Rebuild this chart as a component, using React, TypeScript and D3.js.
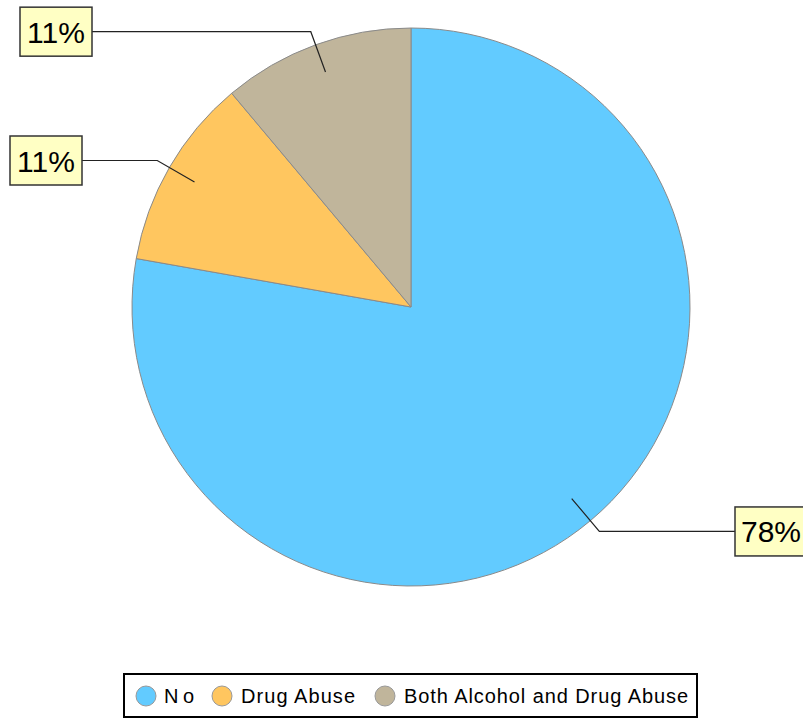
import React from "react";
import * as d3 from "d3";

const categories = ["No", "Drug Abuse", "Both Alcohol and Drug Abuse"];
const values = [7, 1, 1];
const colors = ["#62CBFF", "#FFC65F", "#C0B59B"];
const labelBoxX = [735, 10, 20]; // left edge of each label box

const W = 803, H = 720;
const cx = 411, cy = 307, R = 279;

export default function App() {
  const total = d3.sum(values);
  const pie = d3.pie<number>().sort(null).value((d) => d)(values);
  const arc = d3.arc<d3.PieArcDatum<number>>().innerRadius(0).outerRadius(R);
  const boxW = 72, boxH = 49;

  const legendItems = [
    { x: 146, tx: 164, len: 30 },
    { x: 222, tx: 241, len: 114 },
    { x: 385, tx: 404, len: 284 },
  ];

  return (
    <svg width={W} height={H} style={{ position: "absolute", left: 0, top: 0 }} fontFamily="Liberation Sans, Arial, sans-serif">
      <g transform={`translate(${cx},${cy})`}>
        {pie.map((p, i) => (
          <path key={i} d={arc(p) || ""} fill={colors[i]} stroke="#8a8a8a" strokeWidth={1} />
        ))}
      </g>
      {pie.map((p, i) => {
        const mid = (p.startAngle + p.endAngle) / 2;
        const ix = cx + 250 * Math.sin(mid), iy = cy - 250 * Math.cos(mid);
        const ex = cx + 293 * Math.sin(mid), ey = cy - 293 * Math.cos(mid);
        const right = Math.sin(mid) > 0;
        const bx = labelBoxX[i];
        const hx = right ? bx : bx + boxW;
        const pct = Math.round((values[i] / total) * 100) + "%";
        return (
          <g key={i}>
            <polyline points={`${ix},${iy} ${ex},${ey} ${hx},${ey}`} fill="none" stroke="#222" strokeWidth={1.2} />
            <rect x={bx} y={ey - boxH / 2} width={boxW} height={boxH} fill="#FFFFC4" stroke="#333" strokeWidth={1.5} />
            <text x={bx + boxW / 2} y={ey + 11} textAnchor="middle" fontSize={30} fill="#000">{pct}</text>
          </g>
        );
      })}
      <rect x={124} y={674} width={573} height={43} fill="#fff" stroke="#000" strokeWidth={2} />
      {categories.map((c, i) => (
        <g key={c}>
          <circle cx={legendItems[i].x} cy={696} r={10} fill={colors[i]} stroke="#999" strokeWidth={1} />
          <text x={legendItems[i].tx} y={703} fontSize={20} fill="#000" textLength={legendItems[i].len} lengthAdjust="spacing">{c}</text>
        </g>
      ))}
    </svg>
  );
}
